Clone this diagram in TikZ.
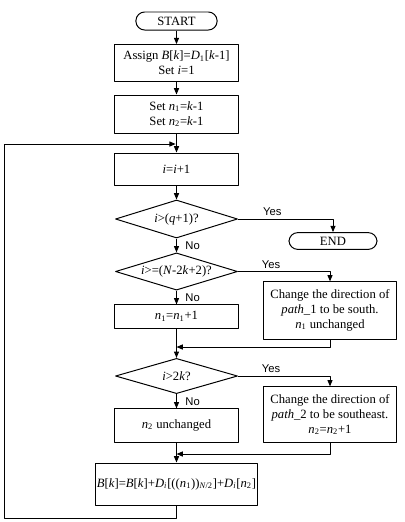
\documentclass[tikz,border=0pt]{standalone}
\usepackage{fontspec}
\setmainfont{Liberation Serif}
\newfontfamily\yesnofont{Liberation Sans}
\usetikzlibrary{shapes.geometric,arrows.meta}
\newcommand{\vv}[1]{\textit{#1}}
\newcommand{\lo}[1]{\textsubscript{#1}}
\tikzset{
  base/.style={draw=black, line width=0.7pt, line join=round},
  box/.style={base, rectangle, align=center, inner sep=1pt, font=\fontsize{9}{10.5}\selectfont},
  term/.style={box, rounded corners=0.22cm},
  test/.style={base, diamond, aspect=3.2, inner sep=0pt, minimum width=3.05cm, font=\fontsize{9}{10.5}\selectfont},
  flow/.style={base, -{Triangle[length=4.5pt,width=3.6pt]}},
  line/.style={base},
  lab/.style={font=\yesnofont\fontsize{8}{9}\selectfont, inner sep=2pt},
}

\begin{document}
\begin{tikzpicture}[x=0.025cm,y=-0.025cm]
  \useasboundingbox (0,0) rectangle (405,522);

  % main column
  \node[term, minimum width=2.03cm, minimum height=0.45cm] (start) at (176.5,21) {START};
  \node[box, minimum width=3.08cm, minimum height=0.92cm] (assign) at (176.5,63)
    {Assign \vv{B}[\vv{k}]=\vv{D}\lo{1}[\vv{k}-1]\\Set \vv{i}=1};
  \node[box, minimum width=3.08cm, minimum height=0.95cm] (setn) at (176.5,114)
    {Set \vv{n}\lo{1}=\vv{k}-1\\Set \vv{n}\lo{2}=\vv{k}-1};
  \node[box, minimum width=3.08cm, minimum height=0.8cm] (inc) at (176.5,169) {\vv{i}=\vv{i}+1};
  \node[test, minimum height=0.95cm] (d1) at (176.5,219) {\vv{i}>(\vv{q}+1)?};
  \node[test, minimum height=0.93cm] (d2) at (176.5,271.5) {\vv{i}>=(\vv{N}-2\vv{k}+2)?};
  \node[box, minimum width=3.08cm, minimum height=0.58cm] (n1) at (176.5,316.5) {\vv{n}\lo{1}=\vv{n}\lo{1}+1};
  \node[test, minimum height=0.88cm] (d3) at (176.5,376) {\vv{i}>2\vv{k}?};
  \node[box, minimum width=3.08cm, minimum height=0.83cm] (n2) at (176.5,425.5) {\vv{n}\lo{2} unchanged};
  \node[box, minimum width=4cm, minimum height=1.05cm] (bk) at (176.5,484)
    {\vv{B}[\vv{k}]=\vv{B}[\vv{k}]+\vv{D}\lo{\vv{i}}[((\vv{n}\lo{1}))\lo{\vv{N}/2}]+\vv{D}\lo{\vv{i}}[\vv{n}\lo{2}]};

  % right column
  \node[term, minimum width=2.2cm, minimum height=0.42cm] (endn) at (333,241) {END};
  \node[box, minimum width=3.3cm, minimum height=1.43cm] (chg1) at (330,310.5)
    {Change the direction of\\\vv{path}\_1 to be south.\\\vv{n}\lo{1} unchanged};
  \node[box, minimum width=3.3cm, minimum height=1.38cm] (chg2) at (330,414.5)
    {Change the direction of\\\vv{path}\_2 to be southeast.\\\vv{n}\lo{2}=\vv{n}\lo{2}+1};

  \coordinate (jn) at (176.5,144);
  \coordinate (mg1) at (176.5,347);
  \coordinate (mg2) at (176.5,454);
  \coordinate (lpa) at (176.5,518);
  \coordinate (lpb) at (4,518);
  \coordinate (lpc) at (4,144);

  \draw[flow] (start) -- (assign);
  \draw[flow] (assign) -- (setn);
  \draw[flow] (setn) -- (inc);
  \draw[flow] (inc) -- (d1);
  \draw[flow] (d1) -- node[lab, right, xshift=4pt] {No} (d2);
  \draw[flow] (d2) -- node[lab, right, xshift=4pt] {No} (n1);
  \draw[flow] (n1) -- (d3);
  \draw[flow] (d3) -- node[lab, right, xshift=4pt] {No} (n2);
  \draw[flow] (n2) -- (bk);

  \draw[flow] (d1.east) -| node[lab, pos=0.18, above] {Yes} (endn.north);
  \draw[flow] (d2.east) -| node[lab, pos=0.18, above] {Yes} (chg1.north);
  \draw[flow] (d3.east) -| node[lab, pos=0.18, above] {Yes} (chg2.north);
  \draw[flow] (chg1.south) |- (mg1);
  \draw[flow] (chg2.south) |- (mg2);

  % back to the counter
  \draw[line] (bk.south) -- (lpa) -- (lpb) -- (lpc);
  \draw[flow, shorten >=0.6pt] (lpc) -- (jn);
\end{tikzpicture}
\end{document}
